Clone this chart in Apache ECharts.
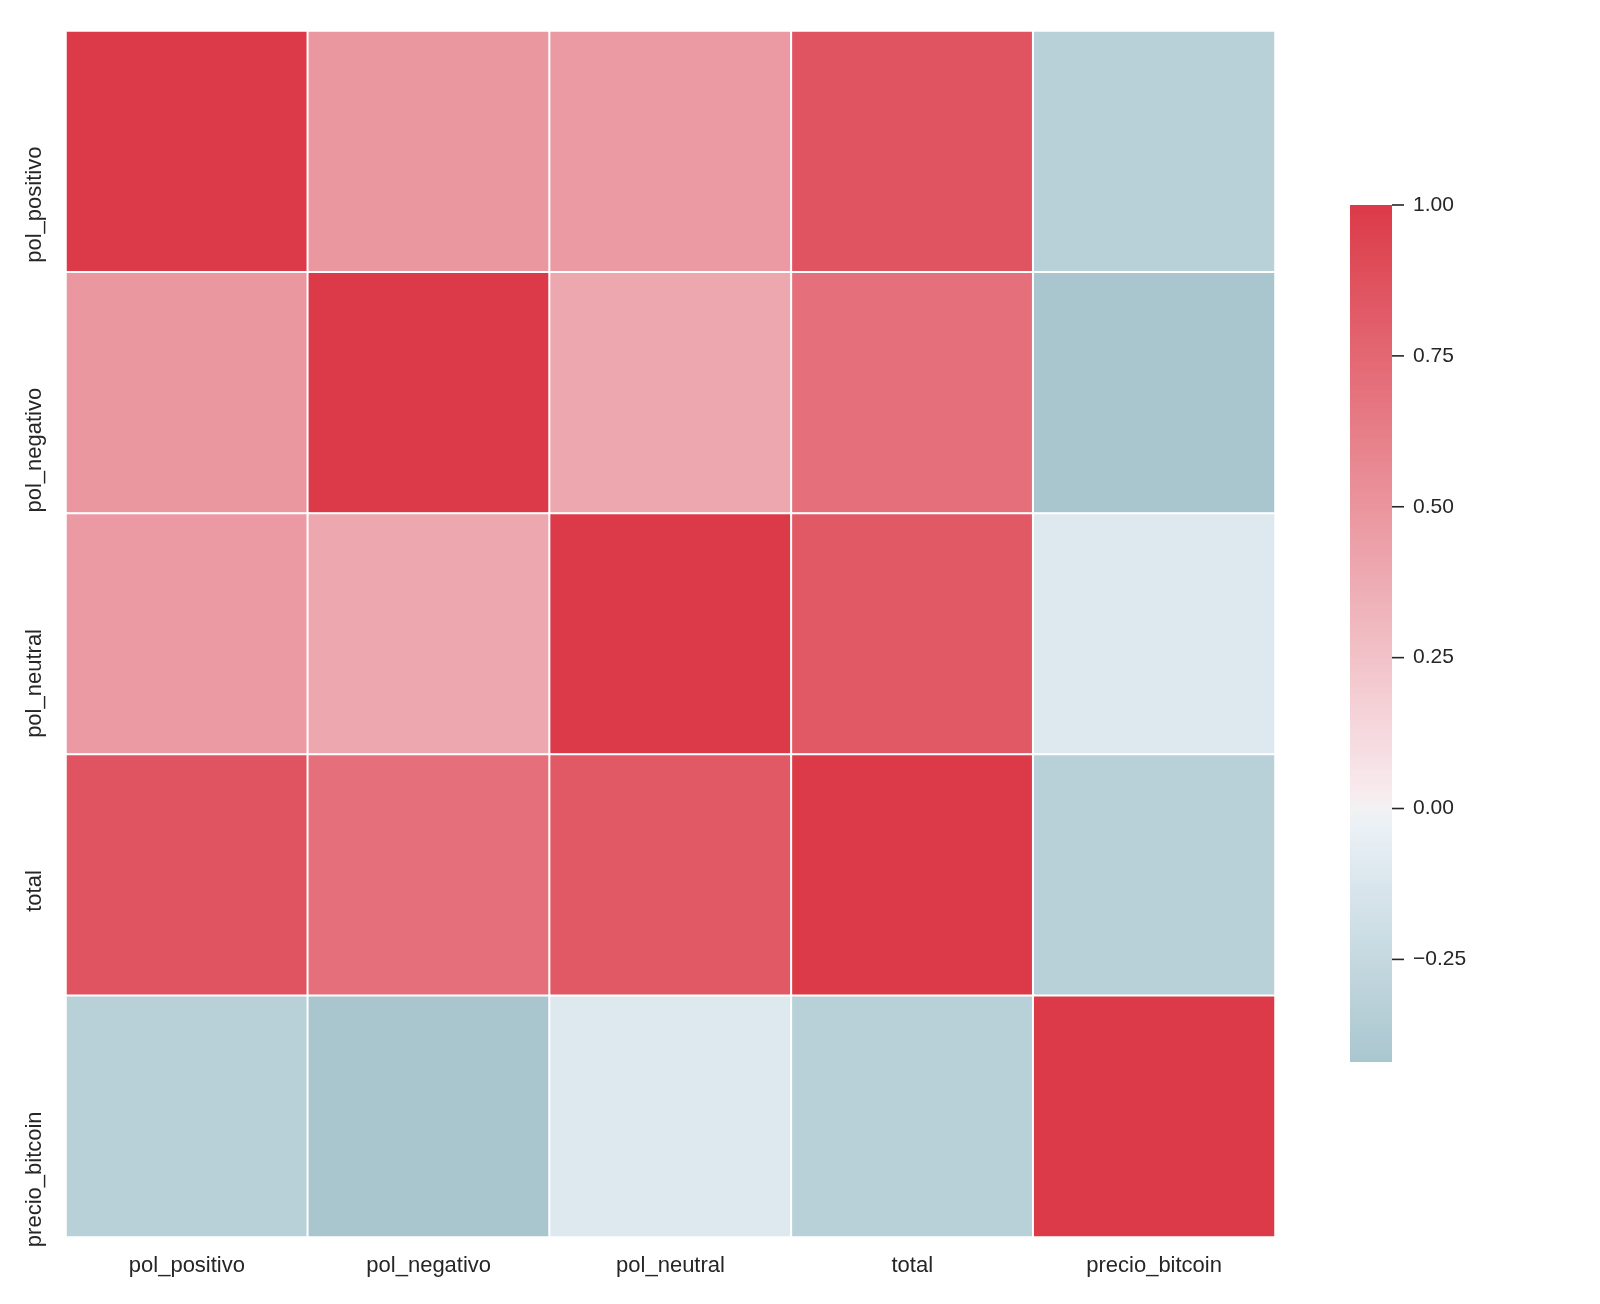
<!DOCTYPE html>
<html>
<head>
<meta charset="utf-8">
<script src="https://cdn.jsdelivr.net/npm/echarts@6/dist/echarts.min.js"></script>
<style>html,body{margin:0;padding:0;background:#fff;}#c{width:1600px;height:1304px;}</style>
</head>
<body>
<div id="c"></div>
<script>
// ---- data ----
const categories = ['pol_positivo', 'pol_negativo', 'pol_neutral', 'total', 'precio_bitcoin'];
const row_pol_positivo   = [1.00, 0.49, 0.47, 0.86, -0.33];
const row_pol_negativo   = [0.49, 1.00, 0.40, 0.70, -0.42];
const row_pol_neutral    = [0.47, 0.40, 1.00, 0.83, -0.10];
const row_total          = [0.86, 0.70, 0.83, 1.00, -0.33];
const row_precio_bitcoin = [-0.33, -0.42, -0.10, -0.33, 1.00];
const colorbarTicks = [1.00, 0.75, 0.50, 0.25, 0.00, -0.25];
const vMin = -0.42, vMax = 1.00;

const rows = [row_pol_positivo, row_pol_negativo, row_pol_neutral, row_total, row_precio_bitcoin];

// ---- diverging colormap (blue - light - red, centered at 0) ----
const cmapStops = [
  [-1.00, [72, 136, 149]],
  [-0.03, [234, 240, 246]],
  [0.00, [242, 242, 242]],
  [0.03, [248, 234, 238]],
  [1.00, [220, 58, 72]]
];
function cmap(v) {
  if (v <= cmapStops[0][0]) return rgb(cmapStops[0][1]);
  for (let i = 1; i < cmapStops.length; i++) {
    const [v1, c1] = cmapStops[i];
    const [v0, c0] = cmapStops[i - 1];
    if (v <= v1) {
      const t = (v - v0) / (v1 - v0);
      return rgb(c0.map((c, k) => c + (c1[k] - c) * t));
    }
  }
  return rgb(cmapStops[cmapStops.length - 1][1]);
}
function rgb(a) { return 'rgb(' + a.map(x => Math.round(x)).join(',') + ')'; }

const N = 143;
const vmColors = [];
for (let i = 0; i < N; i++) vmColors.push(cmap(vMin + (vMax - vMin) * i / (N - 1)));
const gradStops = [];
for (let i = 0; i < N; i++) {
  const off = i / (N - 1);
  gradStops.push({ offset: off, color: cmap(vMax - (vMax - vMin) * off) });
}

const heatData = [];
rows.forEach((r, yi) => r.forEach((v, xi) => heatData.push([xi, yi, v])));

const txt = '#262626';
const font = 'Liberation Sans, Arial, sans-serif';

const chart = echarts.init(document.getElementById('c'));
chart.setOption({
  backgroundColor: '#fff',
  animation: false,
  grid: [
    { left: 66, top: 31, width: 1209, height: 1206 },
    { left: 1350, top: 205, width: 42, height: 857 },
    { left: 66, top: 26, width: 1209, height: 1206 }
  ],
  xAxis: [
    {
      gridIndex: 0, type: 'category', data: categories,
      axisLine: { show: false }, axisTick: { show: false }, splitLine: { show: false },
      axisLabel: { color: txt, fontSize: 22, fontFamily: font, margin: 18 }
    },
    { gridIndex: 1, type: 'value', min: 0, max: 1, show: false },
    { gridIndex: 2, type: 'category', data: categories, show: false }
  ],
  yAxis: [
    {
      gridIndex: 0, type: 'category', data: categories, inverse: true,
      axisLine: { show: false }, axisTick: { show: false }, splitLine: { show: false },
      axisLabel: { show: false }
    },
    {
      gridIndex: 1, type: 'value', min: vMin, max: vMax, position: 'right',
      axisLine: { show: false }, splitLine: { show: false }, axisTick: { show: false },
      axisLabel: { show: true, customValues: colorbarTicks, color: txt, fontSize: 21, fontFamily: font, margin: 21,
                   formatter: v => (v < 0 ? '\u2212' : '') + Math.abs(v).toFixed(2) }
    },
    {
      gridIndex: 2, type: 'category', data: categories, inverse: true,
      axisLine: { show: false }, axisTick: { show: false }, splitLine: { show: false },
      axisLabel: { color: txt, fontSize: 22, fontFamily: font, rotate: 90, margin: 20,
                   align: 'right', verticalAlign: 'bottom' }
    }
  ],
  visualMap: {
    show: false, type: 'continuous', min: vMin, max: vMax, seriesIndex: 0, dimension: 2,
    inRange: { color: vmColors }
  },
  series: [
    {
      type: 'heatmap', xAxisIndex: 0, yAxisIndex: 0, data: heatData,
      itemStyle: { borderColor: '#fff', borderWidth: 2 },
      emphasis: { disabled: true }, label: { show: false }
    },
    {
      type: 'custom', xAxisIndex: 1, yAxisIndex: 1, data: [[0, vMax, vMin]],
      renderItem: function (params, api) {
        const p1 = api.coord([0, api.value(1)]);
        const p2 = api.coord([1, api.value(2)]);
        return {
          type: 'rect',
          shape: { x: p1[0], y: p1[1], width: p2[0] - p1[0], height: p2[1] - p1[1] },
          style: { fill: new echarts.graphic.LinearGradient(0, 0, 0, 1, gradStops) }
        };
      },
      silent: true
    },
    {
      type: 'custom', xAxisIndex: 1, yAxisIndex: 1, clip: false,
      data: colorbarTicks.map(v => [1, v]),
      renderItem: function (params, api) {
        const p = api.coord([api.value(0), api.value(1)]);
        return {
          type: 'line',
          shape: { x1: p[0], y1: p[1], x2: p[0] + 12, y2: p[1] },
          style: { stroke: txt, lineWidth: 1.6 }
        };
      },
      silent: true
    }
  ]
});
</script>
</body>
</html>
